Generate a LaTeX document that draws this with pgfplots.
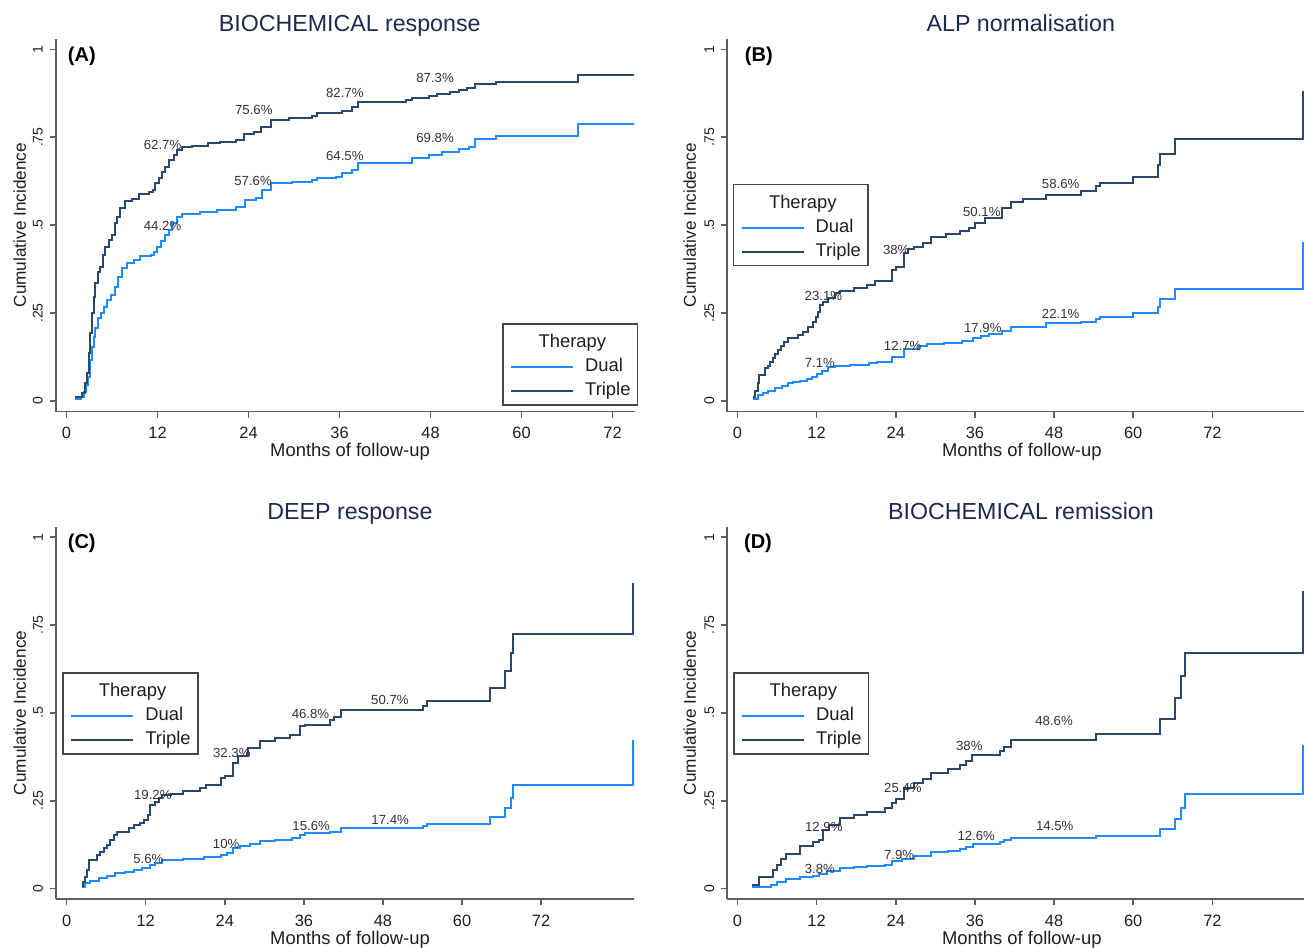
\documentclass[border=0pt]{standalone}
\usepackage{fontspec}
\setmainfont{Liberation Sans}
\usepackage{pgfplots}
\pgfplotsset{compat=1.18}
\definecolor{dualc}{RGB}{30,140,255}
\definecolor{triplec}{RGB}{40,72,108}
\definecolor{axc}{RGB}{95,95,95}
\definecolor{titc}{RGB}{28,42,80}
\definecolor{txtc}{RGB}{30,30,30}
\definecolor{labc}{RGB}{50,50,50}
\definecolor{legc}{RGB}{70,70,70}
\pgfplotsset{
 panel/.style={
  scale only axis, width=289.3pt, height=186.4pt,
  axis lines=left, axis line style={-, draw=axc, line width=0.75pt},
  tick style={draw=axc, line width=0.75pt}, tick align=outside, major tick length=3pt,
  ymin=-0.03, ymax=1.03,
  ytick={0,0.25,0.5,0.75,1}, yticklabels={0,.25,.5,.75,1},
  xtick={0,12,24,36,48,60,72}, xticklabels={0,12,24,36,48,60,72},
  yticklabel style={xshift=-3.6pt, rotate=90, anchor=base, inner sep=0pt, text=txtc, font=\fontsize{7}{8}\selectfont},
  xticklabel style={yshift=-4.5pt, anchor=north, inner sep=0pt, text=txtc, font=\fontsize{8.2}{9}\selectfont},
  legend cell align=left,
  legend style={draw=legc, line width=0.7pt, inner xsep=3.6pt, inner ysep=2.5pt,
    nodes={inner sep=0pt, text height=6.8pt, text depth=2.2pt, text=txtc, font=\fontsize{9.2}{10}\selectfont},
    column sep=5.5pt, row sep=3pt, anchor=north west},
  legend image code/.code={\draw[#1] (0pt,0pt) -- (31pt,0pt);},
 },
 dual/.style={const plot, color=dualc, line width=1pt},
 triple/.style={const plot, color=triplec, line width=1pt},
}
\tikzset{
 pct/.style={font=\fontsize{6.6}{7}\selectfont, text=labc, inner sep=0pt, anchor=center},
 plab/.style={font=\fontsize{10}{11}\selectfont\bfseries, text=black, inner sep=0pt, anchor=base west},
}
\newcommand{\legtitle}{\addlegendimage{empty legend}\addlegendentry[text height=9.3pt]{\hspace*{-23.3pt}Therapy}}
\begin{document}
\begin{tikzpicture}
\useasboundingbox (0,0) rectangle (652pt,473.5pt);
% ---------------- Panel A
\begin{axis}[panel, at={(27.95pt,267.725pt)}, anchor=south west, xmin=-1.4, xmax=74.9,
  legend style={at={(0.7715,0.2367)}}]
\legtitle
\addplot[dual] coordinates {(1.17,0.006) (1.9,0.01) (2.27,0.026) (2.57,0.045) (2.84,0.069) (3.15,0.117) (3.37,0.154) (3.59,0.183) (3.8,0.207) (4.16,0.235) (4.6,0.249) (4.9,0.268) (5.35,0.287) (5.91,0.301) (6.36,0.325) (6.8,0.353) (7.33,0.377) (8.0,0.393) (8.87,0.401) (9.75,0.412) (11.1,0.415) (11.5,0.425) (11.95,0.439) (12.4,0.456) (13.0,0.472) (13.5,0.486) (13.9,0.505) (14.6,0.524) (15.25,0.531) (17.6,0.538) (19.8,0.543) (22.3,0.551) (23.6,0.572) (25.0,0.576) (25.8,0.6) (26.9,0.619) (29.7,0.624) (32.4,0.628) (33.0,0.633) (35.5,0.638) (36.3,0.647) (37.7,0.657) (38.5,0.678) (45.6,0.69) (47.8,0.70) (49.5,0.709) (51.7,0.716) (53.1,0.723) (53.9,0.744) (56.6,0.754) (67.4,0.788) (74.8,0.788)};
\addlegendentry{Dual}
\addplot[triple] coordinates {(1.17,0.01) (2.05,0.024) (2.4,0.05) (2.7,0.079) (2.93,0.136) (3.15,0.192) (3.37,0.249) (3.59,0.297) (3.8,0.335) (4.16,0.368) (4.46,0.382) (4.78,0.415) (5.12,0.439) (5.57,0.458) (6.0,0.472) (6.36,0.505) (6.67,0.524) (7.1,0.548) (7.76,0.569) (8.65,0.573) (9.53,0.589) (10.85,0.595) (11.4,0.6) (11.7,0.619) (12.2,0.633) (12.6,0.652) (13.0,0.666) (13.5,0.685) (14.15,0.699) (14.6,0.714) (15.25,0.723) (16.5,0.726) (18.7,0.733) (20.3,0.737) (22.3,0.742) (23.4,0.76) (24.7,0.764) (25.6,0.78) (26.9,0.80) (29.4,0.806) (32.4,0.81) (33.0,0.818) (36.3,0.825) (37.7,0.835) (38.5,0.85) (44.8,0.856) (45.6,0.862) (47.8,0.868) (48.9,0.874) (50.6,0.879) (51.7,0.884) (52.8,0.889) (53.9,0.90) (56.6,0.907) (67.4,0.927) (74.8,0.927)};
\addlegendentry{Triple}
\node[pct] at (axis cs:12.67,0.727) {62.7\%};
\node[pct] at (axis cs:24.7,0.827) {75.6\%};
\node[pct] at (axis cs:36.7,0.877) {82.7\%};
\node[pct] at (axis cs:48.6,0.918) {87.3\%};
\node[pct] at (axis cs:12.67,0.498) {44.2\%};
\node[pct] at (axis cs:24.6,0.627) {57.6\%};
\node[pct] at (axis cs:36.7,0.698) {64.5\%};
\node[pct] at (axis cs:48.6,0.749) {69.8\%};
\node[plab] at (axis cs:0.13,0.965) {(A)};
\end{axis}
% ---------------- Panel B
\begin{axis}[panel, at={(363.6pt,267.725pt)}, anchor=south west, xmin=-1.55, xmax=86.16,
  legend style={at={(0.0095,0.6104)}}]
\legtitle
\addplot[dual] coordinates {(2.3,0.006) (3.17,0.017) (3.93,0.022) (4.69,0.028) (5.7,0.036) (6.7,0.043) (7.72,0.05) (8.47,0.055) (9.5,0.058) (10.5,0.062) (11.36,0.069) (12.0,0.077) (12.8,0.086) (13.8,0.096) (14.8,0.1) (17.1,0.102) (19.9,0.107) (21.2,0.112) (23.4,0.126) (25.3,0.147) (27.5,0.155) (28.7,0.161) (31.3,0.166) (34.1,0.172) (35.7,0.178) (36.9,0.185) (38.2,0.19) (40.1,0.2) (41.4,0.211) (46.7,0.221) (52.1,0.226) (54.3,0.233) (54.9,0.24) (60.0,0.249) (63.8,0.268) (64.1,0.29) (66.3,0.319) (85.75,0.319) (85.75,0.453)};
\addlegendentry{Dual}
\addplot[triple] coordinates {(2.3,0.012) (2.67,0.027) (3.07,0.05) (3.27,0.074) (4.18,0.093) (4.69,0.1) (4.94,0.112) (5.45,0.121) (5.7,0.134) (6.1,0.145) (6.6,0.156) (7.1,0.169) (7.62,0.178) (9.23,0.188) (9.99,0.197) (10.75,0.211) (11.5,0.225) (11.87,0.24) (12.27,0.254) (12.5,0.273) (12.9,0.282) (13.8,0.292) (14.8,0.306) (15.5,0.314) (17.7,0.32) (19.6,0.33) (20.8,0.34) (23.4,0.372) (24.0,0.382) (25.3,0.42) (25.9,0.431) (26.8,0.439) (28.1,0.448) (29.4,0.465) (31.6,0.475) (33.8,0.484) (35.1,0.493) (36.0,0.507) (37.6,0.52) (40.1,0.549) (41.4,0.567) (43.3,0.574) (46.7,0.586) (52.1,0.597) (54.3,0.61) (54.9,0.619) (60.0,0.638) (63.8,0.671) (64.1,0.701) (66.3,0.744) (85.75,0.744) (85.75,0.88)};
\addlegendentry{Triple}
\node[pct] at (axis cs:13.04,0.299) {23.1\%};
\node[pct] at (axis cs:24.07,0.429) {38\%};
\node[pct] at (axis cs:37.05,0.538) {50.1\%};
\node[pct] at (axis cs:49.0,0.617) {58.6\%};
\node[pct] at (axis cs:12.5,0.109) {7.1\%};
\node[pct] at (axis cs:25.05,0.156) {12.7\%};
\node[pct] at (axis cs:37.2,0.2085) {17.9\%};
\node[pct] at (axis cs:49.0,0.247) {22.1\%};
\node[plab] at (axis cs:1.08,0.965) {(B)};
\end{axis}
% ---------------- Panel C
\begin{axis}[panel, at={(28pt,23.9pt)}, anchor=south west, width=289pt, height=186.25pt, xmin=-1.62, xmax=86.1,
  legend style={at={(0.0112,0.609)}}]
\legtitle
\addplot[dual] coordinates {(2.32,0.004) (2.83,0.015) (3.59,0.023) (4.86,0.03) (6.12,0.036) (7.39,0.044) (8.9,0.048) (10.2,0.053) (11.4,0.058) (12.7,0.067) (13.45,0.074) (14.5,0.082) (17.7,0.083) (19.6,0.085) (20.9,0.09) (23.4,0.097) (24.4,0.102) (25.3,0.116) (26.3,0.12) (27.8,0.128) (29.4,0.135) (31.6,0.139) (34.2,0.144) (35.4,0.154) (36.1,0.158) (39.9,0.162) (41.6,0.173) (54.1,0.177) (54.7,0.185) (64.2,0.204) (66.5,0.23) (67.4,0.258) (67.8,0.296) (86.0,0.296) (86.0,0.424)};
\addlegendentry{Dual}
\addplot[triple] coordinates {(2.32,0.008) (2.43,0.02) (2.83,0.034) (3.08,0.053) (3.43,0.082) (4.6,0.096) (5.1,0.105) (5.62,0.115) (6.12,0.124) (6.62,0.139) (7.14,0.153) (7.64,0.162) (9.4,0.172) (10.2,0.181) (11.2,0.188) (11.7,0.195) (12.35,0.21) (12.7,0.238) (13.45,0.248) (13.97,0.257) (14.5,0.267) (15.8,0.27) (17.7,0.277) (20.3,0.287) (21.2,0.296) (23.4,0.315) (24.0,0.322) (25.2,0.358) (26.0,0.377) (27.5,0.4) (29.4,0.42) (31.6,0.429) (33.9,0.438) (35.4,0.462) (36.1,0.467) (39.9,0.479) (40.5,0.488) (41.6,0.507) (54.1,0.519) (54.7,0.533) (64.2,0.571) (66.5,0.619) (67.4,0.671) (67.8,0.726) (86.0,0.726) (86.0,0.87)};
\addlegendentry{Triple}
\node[pct] at (axis cs:13.07,0.268) {19.2\%};
\node[pct] at (axis cs:25.06,0.386) {32.3\%};
\node[pct] at (axis cs:37.0,0.498) {46.8\%};
\node[pct] at (axis cs:49.05,0.536) {50.7\%};
\node[pct] at (axis cs:12.4,0.085) {5.6\%};
\node[pct] at (axis cs:24.2,0.128) {10\%};
\node[pct] at (axis cs:37.1,0.179) {15.6\%};
\node[pct] at (axis cs:49.1,0.196) {17.4\%};
\node[plab] at (axis cs:0.12,0.967) {(C)};
\end{axis}
% ---------------- Panel D
\begin{axis}[panel, at={(363.6pt,23.9pt)}, anchor=south west, height=186.25pt, xmin=-1.55, xmax=86.16,
  legend style={at={(0.0105,0.609)}}]
\legtitle
\addplot[dual] coordinates {(2.2,0.004) (5.1,0.009) (6.0,0.018) (7.3,0.028) (9.5,0.032) (11.4,0.037) (12.3,0.041) (13.6,0.051) (15.5,0.059) (17.7,0.062) (19.6,0.065) (22.4,0.068) (23.4,0.078) (25.0,0.084) (26.8,0.094) (29.4,0.103) (31.9,0.108) (33.8,0.113) (34.7,0.119) (35.7,0.128) (39.8,0.132) (40.4,0.138) (41.5,0.144) (54.3,0.151) (64.1,0.17) (66.3,0.198) (67.3,0.23) (67.8,0.269) (85.75,0.269) (85.75,0.408)};
\addlegendentry{Dual}
\addplot[triple] coordinates {(2.2,0.009) (3.2,0.032) (5.4,0.054) (6.0,0.068) (6.6,0.083) (7.3,0.1) (9.5,0.12) (11.4,0.132) (12.3,0.139) (13.0,0.168) (13.9,0.182) (15.5,0.201) (17.7,0.211) (19.6,0.218) (22.4,0.23) (23.4,0.244) (24.0,0.255) (25.3,0.287) (26.8,0.301) (28.1,0.313) (29.4,0.329) (31.9,0.341) (33.8,0.351) (34.7,0.362) (35.6,0.379) (39.8,0.391) (40.4,0.402) (41.5,0.424) (54.3,0.44) (64.1,0.484) (66.3,0.542) (67.3,0.604) (67.8,0.671) (85.75,0.671) (85.75,0.846)};
\addlegendentry{Triple}
\node[pct] at (axis cs:13.1,0.177) {12.9\%};
\node[pct] at (axis cs:25.08,0.2865) {25.4\%};
\node[pct] at (axis cs:35.15,0.407) {38\%};
\node[pct] at (axis cs:48.0,0.476) {48.6\%};
\node[pct] at (axis cs:12.5,0.056) {3.8\%};
\node[pct] at (axis cs:24.5,0.097) {7.9\%};
\node[pct] at (axis cs:36.2,0.149) {12.6\%};
\node[pct] at (axis cs:48.1,0.177) {14.5\%};
\node[plab] at (axis cs:0.95,0.967) {(D)};
\end{axis}
% ---------------- titles and axis labels
\begin{scope}[every node/.style={inner sep=0pt}]
\node[anchor=base, text=titc, font=\fontsize{11.6}{13}\selectfont] at (174.85pt,457.65pt) {BIOCHEMICAL response};
\node[anchor=base, text=titc, font=\fontsize{11.6}{13}\selectfont] at (510.4pt,457.65pt) {ALP normalisation};
\node[anchor=base, text=titc, font=\fontsize{11.6}{13}\selectfont] at (175pt,213.65pt) {DEEP response};
\node[anchor=base, text=titc, font=\fontsize{11.6}{13}\selectfont] at (510.5pt,213.65pt) {BIOCHEMICAL remission};
\node[anchor=base, text=txtc, font=\fontsize{9.2}{10}\selectfont] at (175pt,245.2pt) {Months of follow-up};
\node[anchor=base, text=txtc, font=\fontsize{9.2}{10}\selectfont] at (510.9pt,245.2pt) {Months of follow-up};
\node[anchor=base, text=txtc, font=\fontsize{9.2}{10}\selectfont] at (175pt,1.2pt) {Months of follow-up};
\node[anchor=base, text=txtc, font=\fontsize{9.2}{10}\selectfont] at (510.9pt,1.2pt) {Months of follow-up};
\node[rotate=90, anchor=base, text=txtc, font=\fontsize{8.6}{10}\selectfont] at (12.9pt,360.9pt) {Cumulative Incidence};
\node[rotate=90, anchor=base, text=txtc, font=\fontsize{8.6}{10}\selectfont] at (347.9pt,360.9pt) {Cumulative Incidence};
\node[rotate=90, anchor=base, text=txtc, font=\fontsize{8.6}{10}\selectfont] at (12.9pt,117pt) {Cumulative Incidence};
\node[rotate=90, anchor=base, text=txtc, font=\fontsize{8.6}{10}\selectfont] at (347.9pt,117pt) {Cumulative Incidence};
\end{scope}
\end{tikzpicture}
\end{document}
